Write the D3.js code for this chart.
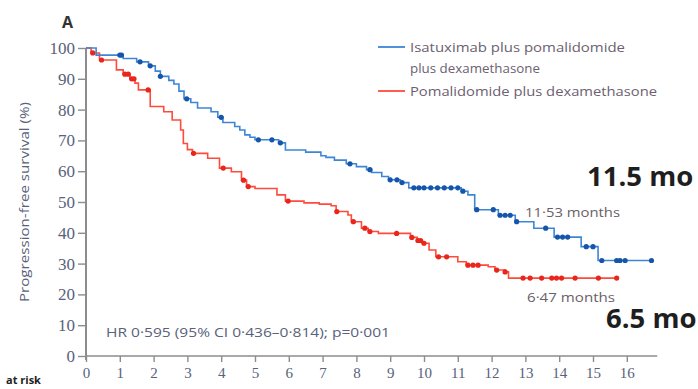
<!DOCTYPE html>
<html>
<head>
<meta charset="utf-8">
<script src="https://cdn.jsdelivr.net/npm/d3@7/dist/d3.min.js"></script>
<style>
  html, body { margin: 0; padding: 0; background: #fff; }
  svg { display: block; font-family: "Open Sans", "DejaVu Sans", sans-serif; }
</style>
</head>
<body>
<svg id="chart" width="698" height="389"></svg>
<script>
// Kaplan–Meier progression-free survival, step points (months, % surviving)
const isaTimes = [0, 0.3, 1.1, 1.5, 1.85, 2.05, 2.2, 2.45, 2.6, 2.75, 2.9, 3.1, 3.3, 3.7, 3.9, 4.05, 4.4, 4.55, 4.7, 4.85, 5.0, 5.7, 5.9, 6.5, 6.95, 7.1, 7.35, 7.7, 8.0, 8.3, 8.45, 8.75, 8.95, 9.3, 9.55, 11.1, 11.3, 11.5, 12.2, 12.7, 13.25, 13.85, 14.65, 15.15, 16.75];
const isaSurv  = [100, 97.7, 96.6, 95.5, 94.2, 92.5, 90.8, 89.5, 88.3, 86, 83.5, 82.3, 80.5, 79.3, 77.5, 75.8, 74.5, 73.4, 71.8, 71, 70.2, 69.2, 66.9, 66.2, 65, 64.5, 63.6, 62.4, 61.5, 60.5, 59.6, 58.3, 57.2, 56.3, 54.6, 53.5, 52.3, 47.5, 45.7, 43.6, 41.5, 38.6, 35.5, 31, 31];
const isaCensored = [1.0, 1.05, 1.6, 1.9, 2.2, 2.98, 4.0, 5.1, 5.5, 5.75, 7.81, 8.4, 9.0, 9.2, 9.35, 9.7, 9.85, 10.0, 10.2, 10.4, 10.6, 10.8, 11.0, 11.15, 11.56, 12.05, 12.25, 12.4, 12.55, 12.74, 13.6, 13.95, 14.1, 14.25, 14.8, 15.0, 15.26, 15.7, 15.8, 15.95, 16.73];

const pdTimes = [0, 0.15, 0.4, 0.9, 1.1, 1.3, 1.45, 1.55, 1.9, 2.3, 2.55, 2.8, 2.88, 3.0, 3.15, 3.6, 3.95, 4.3, 4.6, 4.75, 5.0, 5.65, 5.9, 6.45, 6.9, 7.25, 7.4, 7.75, 7.85, 8.15, 8.35, 8.65, 9.6, 9.8, 9.95, 10.15, 10.35, 11.0, 11.25, 11.9, 12.1, 12.4, 12.5, 15.7];
const pdSurv  = [100, 98.4, 96.1, 92.9, 91.5, 90, 88.6, 86.4, 81, 79.3, 76.6, 73.4, 69, 67, 65.8, 64.2, 61, 59.8, 57.1, 55, 54.4, 52.3, 50.3, 49.7, 49.3, 48.8, 46.9, 45.8, 43.6, 41.5, 40.4, 39.8, 38.5, 37.5, 36.6, 34.4, 32.2, 30.6, 29.5, 29, 27.9, 27.3, 25.3, 25.3];
const pdCensored = [0.2, 0.46, 1.15, 1.25, 1.35, 1.42, 1.84, 3.18, 4.06, 4.66, 4.8, 5.98, 7.42, 7.91, 8.25, 8.4, 9.19, 9.64, 9.82, 9.9, 10.0, 10.43, 10.67, 11.3, 11.45, 11.6, 12.15, 12.4, 12.93, 13.14, 13.48, 13.78, 13.92, 14.07, 14.47, 15.16, 15.7];

const xTicks = [0, 1, 2, 3, 4, 5, 6, 7, 8, 9, 10, 11, 12, 13, 14, 15, 16];
const yTicks = [0, 10, 20, 30, 40, 50, 60, 70, 80, 90, 100];

const legendLabels = [["Isatuximab plus pomalidomide", "plus dexamethasone"], ["Pomalidomide plus dexamethasone"]];
const medianLabels = ["11·53 months", "6·47 months"];
const medianBadges = ["11.5 mo", "6.5 mo"];
const hrText = "HR 0·595 (95% CI 0·436–0·814); p=0·001";
const riskHeading = "at risk";

const colors = {
  isaLine: "#3d86d6", isaMark: "#1556aa",
  pdLine: "#ff4b3c", pdMark: "#e8261c",
  axis: "#8c8c8c", tickText: "#58627a", legendText: "#6c6170"
};

const svg = d3.select("#chart");
const x = d3.scaleLinear().domain([0, 16]).range([86, 626.8]);
const y = d3.scaleLinear().domain([0, 100]).range([356, 48]);

// axes
const xAxis = svg.append("g").attr("transform", `translate(0,${y(0)})`)
  .call(d3.axisBottom(x).tickValues(xTicks).tickSize(6).tickSizeOuter(0).tickPadding(5));
xAxis.select(".domain").remove();
xAxis.append("line").attr("x1", x(0)).attr("x2", x(16.9)).attr("y1", 0).attr("y2", 0)
  .attr("stroke", colors.axis).attr("stroke-width", 1.6);

const yAxis = svg.append("g").attr("transform", `translate(${x(0)},0)`)
  .call(d3.axisLeft(y).tickValues(yTicks).tickSize(8).tickSizeOuter(0).tickPadding(3));
yAxis.select(".domain").remove();
yAxis.append("line").attr("x1", 0).attr("x2", 0).attr("y1", y(100)).attr("y2", y(0) + 4)
  .attr("stroke", colors.axis).attr("stroke-width", 2);

[xAxis, yAxis].forEach(g => {
  g.selectAll(".tick line").attr("stroke", colors.axis).attr("stroke-width", 1.4);
  g.selectAll(".tick text").attr("fill", colors.tickText)
    .style("font-family", "'Liberation Serif', serif");
});
xAxis.selectAll(".tick text").style("font-size", "15px");
yAxis.selectAll(".tick text").style("font-size", "17px");

// axis title
svg.append("text")
  .attr("transform", `translate(29,${(y(0) + y(100)) / 2}) rotate(-90)`)
  .attr("text-anchor", "middle").attr("fill", colors.tickText)
  .attr("textLength", 200).attr("lengthAdjust", "spacingAndGlyphs")
  .style("font-size", "12.5px").text("Progression-free survival (%)");

// panel letter
svg.append("text").attr("x", 62).attr("y", 28).attr("fill", "#333")
  .style("font-size", "16px").style("font-weight", "bold").text("A");

// step curves with censoring marks
const line = d3.line().x(d => x(d[0])).y(d => y(d[1])).curve(d3.curveStepAfter);

function survivalAt(times, surv, t) {
  const i = d3.bisectRight(times, t) - 1;
  return surv[Math.max(0, i)];
}

function drawArm(times, surv, censored, lineColor, markColor) {
  const pts = times.map((t, i) => [t, surv[i]]);
  svg.append("path").datum(pts).attr("d", line)
    .attr("fill", "none").attr("stroke", lineColor).attr("stroke-width", 1.6);
  svg.append("g").selectAll("circle").data(censored).join("circle")
    .attr("cx", d => x(d)).attr("cy", d => y(survivalAt(times, surv, d)))
    .attr("r", 2.6).attr("fill", markColor);
}

drawArm(pdTimes, pdSurv, pdCensored, colors.pdLine, colors.pdMark);
drawArm(isaTimes, isaSurv, isaCensored, colors.isaLine, colors.isaMark);

// legend
const legend = svg.append("g");
const legendRows = [
  { color: colors.isaLine, lines: legendLabels[0], widths: [215, 130], y: 47 },
  { color: colors.pdLine, lines: legendLabels[1], widths: [247], y: 91 }
];
legendRows.forEach(r => {
  legend.append("line").attr("x1", 378).attr("x2", 405).attr("y1", r.y).attr("y2", r.y)
    .attr("stroke", r.color).attr("stroke-width", 1.8);
  r.lines.forEach((s, i) => {
    legend.append("text").attr("x", 410).attr("y", r.y + 4.5 + i * 21)
      .attr("textLength", r.widths[i]).attr("lengthAdjust", "spacingAndGlyphs")
      .attr("fill", colors.legendText).style("font-size", "13px").text(s);
  });
});

// median annotations
svg.append("text").attr("x", 525).attr("y", 217).attr("fill", "#6a6068")
  .attr("textLength", 95).attr("lengthAdjust", "spacingAndGlyphs")
  .style("font-size", "13.5px").text(medianLabels[0]);
svg.append("text").attr("x", 527).attr("y", 302).attr("fill", "#6a6068")
  .attr("textLength", 88).attr("lengthAdjust", "spacingAndGlyphs")
  .style("font-size", "13.5px").text(medianLabels[1]);

svg.append("text").attr("x", 587).attr("y", 186).attr("fill", "#1e1e1e")
  .style("font-size", "27.5px").style("font-weight", "bold").text(medianBadges[0]);
svg.append("text").attr("x", 606).attr("y", 328).attr("fill", "#1e1e1e")
  .style("font-size", "27.5px").style("font-weight", "bold").text(medianBadges[1]);

// hazard ratio
svg.append("text").attr("x", 106).attr("y", 337).attr("fill", colors.tickText)
  .attr("textLength", 284).attr("lengthAdjust", "spacingAndGlyphs")
  .style("font-size", "13px").text(hrText);

// risk table heading
svg.append("text").attr("x", 6).attr("y", 384).attr("fill", "#222")
  .style("font-size", "11px").style("font-weight", "bold").text(riskHeading);
</script>
</body>
</html>
